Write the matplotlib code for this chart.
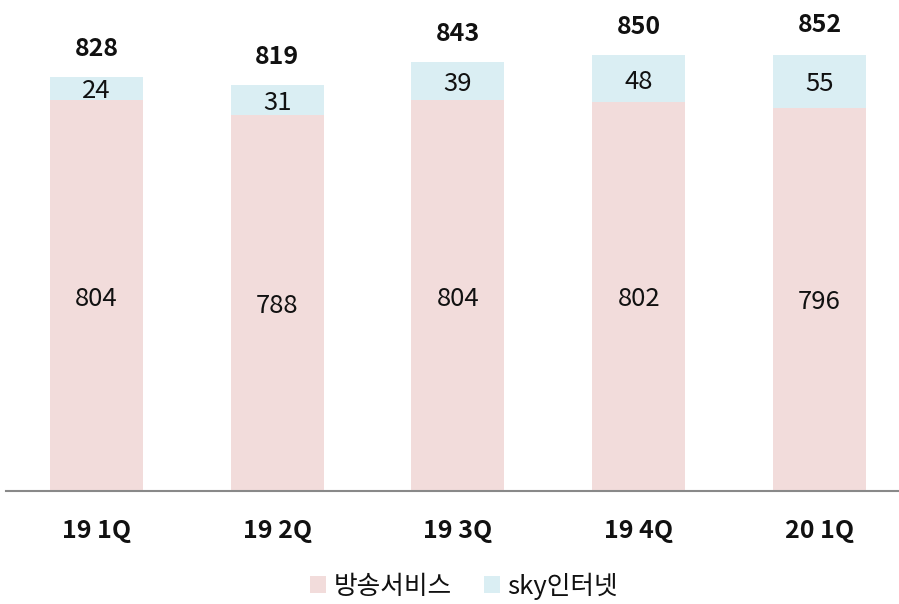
import matplotlib
matplotlib.use("Agg")
import matplotlib.pyplot as plt
from matplotlib.patches import Patch

plt.rcParams["font.family"] = ["Noto Sans CJK KR", "DejaVu Sans"]

# Données
quarters = ["19 1Q", "19 2Q", "19 3Q", "19 4Q", "20 1Q"]
broadcast = [804, 788, 804, 802, 796]
internet = [24, 31, 39, 48, 55]
totals = [828, 819, 843, 850, 852]
series_names = ["방송서비스", "sky인터넷"]

pink = "#F2DCDB"
blue = "#DAEEF3"

fig = plt.figure(figsize=(8.99, 6.04), dpi=100)
ax = fig.add_axes([6 / 899, 113 / 604, 893 / 899, 481 / 604])

x = range(len(quarters))
width = 0.515
ax.bar(x, broadcast, width, color=pink, zorder=2)
ax.bar(x, internet, width, bottom=broadcast, color=blue, zorder=2)

ax.set_ylim(400, 897)
ax.set_xlim(-0.5, 4.44)

# étiquettes dans les segments
for i in x:
    ax.text(i, (400 + broadcast[i]) / 2, str(broadcast[i]), ha="center",
            va="center_baseline", fontsize=18.5, color="#111111")
    ax.text(i, broadcast[i] + internet[i] / 2, str(internet[i]), ha="center",
            va="center_baseline", fontsize=18.5, color="#111111")
    ax.annotate(str(totals[i]), (i, totals[i]), xytext=(0, 22),
                textcoords="offset points", ha="center", va="center_baseline",
                fontsize=18, fontweight="bold", color="#111111")

for s in ["top", "right", "left"]:
    ax.spines[s].set_visible(False)
ax.spines["bottom"].set_color("#898989")
ax.spines["bottom"].set_linewidth(1.5)
ax.set_yticks([])
ax.set_xticks(list(x))
ax.set_xticklabels(quarters, fontsize=18, fontweight="bold", color="#111111")
ax.tick_params(axis="x", length=0, pad=20)

handles = [Patch(facecolor=pink, edgecolor="none"), Patch(facecolor=blue, edgecolor="none")]
fig.legend(handles, series_names, loc="center", bbox_to_anchor=(464 / 899, 1 - 586 / 604),
           ncol=2, frameon=False, fontsize=18.5, handlelength=0.62, handleheight=0.62,
           handletextpad=0.3, columnspacing=1.25, labelcolor="#111111")

fig.savefig("out.png", dpi=100)
